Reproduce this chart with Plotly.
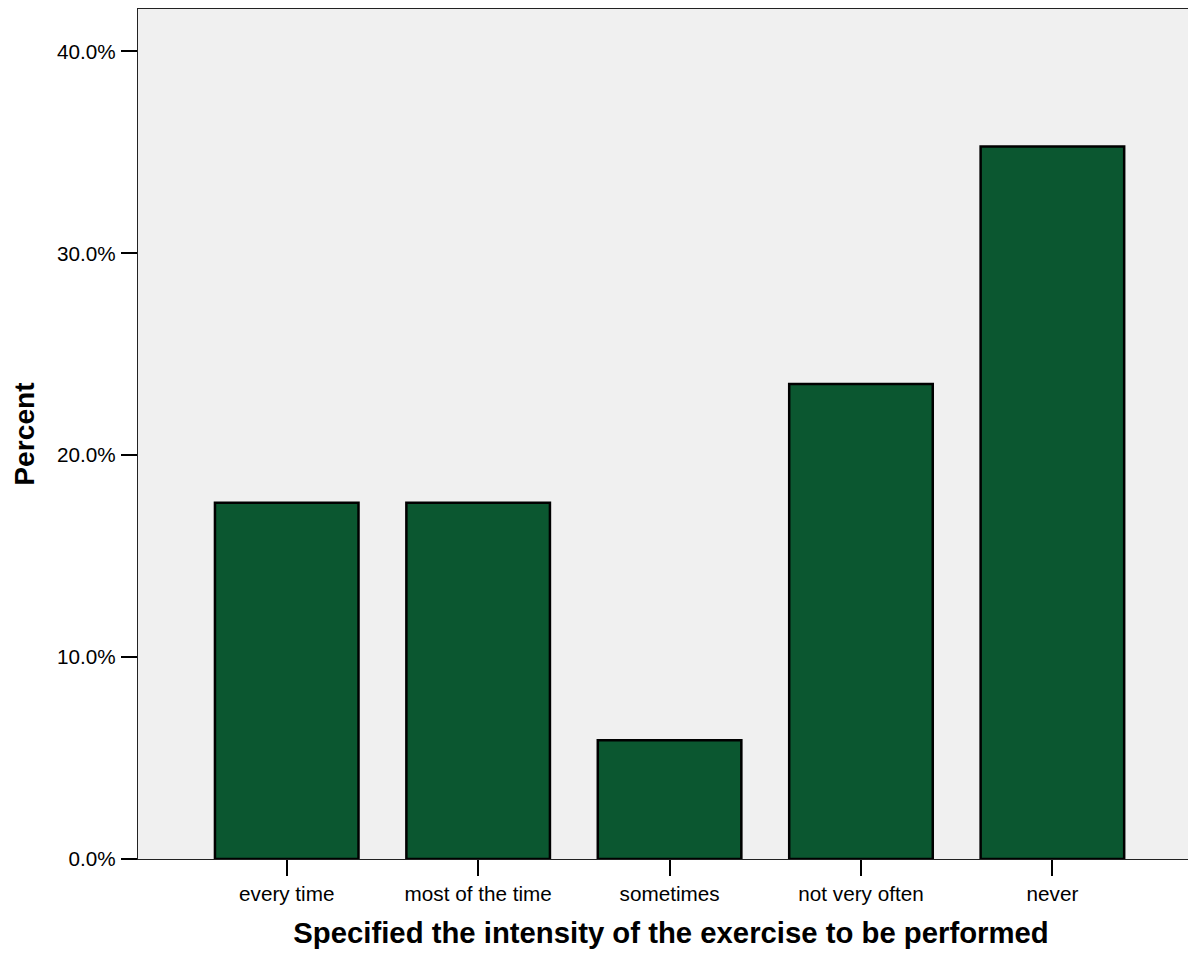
import plotly.graph_objects as go

categories = ["every time", "most of the time", "sometimes", "not very often", "never"]
percents = [17.65, 17.65, 5.88, 23.53, 35.29]
y_ticks = [0, 10, 20, 30, 40]
x_title = "Specified the intensity of the exercise to be performed"
y_title = "Percent"

FONT = "Liberation Sans, Arial, sans-serif"

fig = go.Figure(
    go.Bar(
        x=list(range(len(categories))),
        y=percents,
        marker=dict(color="#0B5730", line=dict(color="#000000", width=2.5)),
        hoverinfo="skip",
    )
)

fig.update_layout(
    width=1196,
    height=954,
    margin=dict(l=130, r=0, t=1, b=103, autoexpand=False),
    paper_bgcolor="white",
    plot_bgcolor="#F0F0F0",
    bargap=0.25,
    showlegend=False,
    font=dict(family=FONT, color="black", size=20.7),
)

fig.update_xaxes(
    range=[-0.777, 4.792],
    tickmode="array",
    tickvals=list(range(len(categories))),
    ticktext=categories,
    ticks="outside",
    ticklen=16,
    tickwidth=1.5,
    tickcolor="black",
    showline=True,
    linecolor="#222222",
    linewidth=1.3,
    mirror=True,
    showgrid=False,
    zeroline=False,
    tickfont=dict(size=20.7),
    title=dict(text=x_title, font=dict(size=29.3, family=FONT, weight="bold"), standoff=18),
    automargin=False,
)

fig.update_yaxes(
    range=[0, 42.1],
    tickmode="array",
    tickvals=y_ticks,
    ticktext=[f"{v:.1f}%" for v in y_ticks],
    ticks="outside",
    ticklen=16,
    tickwidth=1.5,
    tickcolor="black",
    showline=True,
    linecolor="#222222",
    linewidth=1.3,
    mirror=False,
    showgrid=False,
    zeroline=False,
    tickfont=dict(size=20.7),
    ticklabelstandoff=1,
    title=dict(text=y_title, font=dict(size=28.2, family=FONT, weight="bold"), standoff=20),
    automargin=False,
)

fig.write_html("out.html")
